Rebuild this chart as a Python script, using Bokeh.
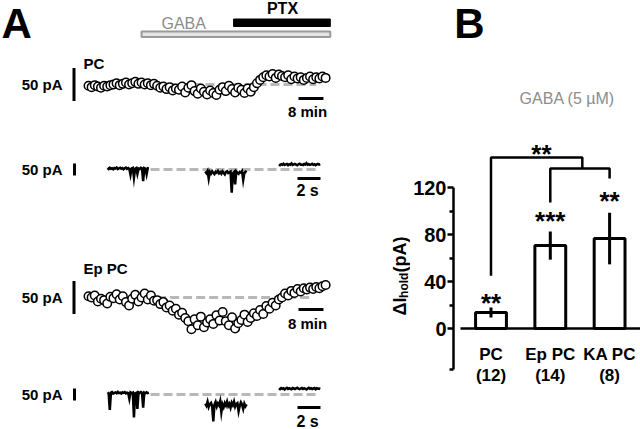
import math
import numpy as np
from bokeh.plotting import figure
from bokeh.models import Range1d, LinearAxis, FixedTicker
from bokeh.layouts import row, column
from bokeh.embed import file_html
from bokeh.resources import INLINE
from bokeh.core.properties import value

# ------------------------------------------------------------------ data
# Panel A: holding-current time courses (pA relative to baseline), 1 point / min
tc_time_min = list(range(77))
pc_tc_pA = [-2, -4, -1, -3, -5, -2, -3, -1,
            0, 2, -1, 1, 3, 0, 2, 4, 1, 3, 0, 2, -1, 1,
            -2, -5, -3, -7, -4, -9, -6, -8,
            -3, -12, -5, -1, -10, -14, -6,
            -11, -15, -9, -13, -16, -8,
            -4, -10, -2, -7, -12, -5,
            -8, -13, -6, -11, -4,
            2, 7, 11, 14,
            12, 16, 10, 15, 13, 11, 14,
            8, 12, 9, 11, 7, 10, 12, 8, 11, 9, 12, 10]
ep_tc_pA = [2, 0, 3, -6, -2, -4, -9, 1, -1,
            5, -3, 2, -7, -12, -2, 4, -6, 0, 6, -3, 3, -5,
            -4, -10, -7, -15, -12, -20, -17, -26, -23, -31, -36,
            -48, -33, -42, -29, -45, -38, -33, -40, -27, -35, -22, -36, -42, -30, -47, -39,
            -34, -26, -37, -31, -24, -28,
            -19, -25, -13, -17, -8, -12, -3,
            0, 6, 3, 10, 7, 13, 9, 14, 12, 15, 13, 16, 14, 17, 19]
pc_tc_baseline_min = [0, 73]
ep_tc_baseline_min = [22, 72]
gaba_on_min = 17
ptx_on_min = 46.5
drug_off_min = 77.5
tc_scale_pA = 50
tc_scale_min = 8

# Panel A: example current traces (pA), sampled every 0.1 s
trace_dt_s = 0.1
trace_seg_start_s = [0.0, 8.5, 14.9]
pc_trace_pA = [
    [6, 2, 7, 3, 5, 1, 6, 4, 8, 2, 5, 7, 3, 6, 1, 5, 8, 3, 6, 2, -22, 5, 7, -34, 3, 6, -18, 4, 2, 7, 5, -48, 6, 3, -20, 5, 4],
    [-8, -15, -6, -38, -10, -17, -7, -14, -19, -9, -13, -6, -16, -11, -18, -8, -14, -20, -10, -7, -15, -12, -9, -97, -16, -11, -62, -8, -14, -18, -10, -13, -7, -44, -15, -9, -12],
    [21, 18, 22, 20, 24, 19, 21, 23, 18, 22, 20, 25, 19, 21, 23, 20, 18, 22, 24, 20, 21, 19, 23, 21, 26, 20, 22, 19, 21, 24, 20, 22, 18, 21, 23, 20, 22],
]
ep_trace_pA = [
    [9, 5, -64, 8, 10, 4, 7, 9, 5, 11, 6, 8, 4, 9, 7, 10, 5, 8, 6, -18, 9, 6, 8, -96, 5, 7, -60, 9, 6, 10, 7, -55, 8, 5, 9, 6, 8],
    [-38, -47, -30, -52, -40, -35, -49, -112, -42, -31, -50, -37, -45, -28, -74, -41, -53, -36, -46, -30, -48, -39, -55, -34, -44, -29, -51, -40, -36, -70, -47, -33, -42, -60, -38, -49, -41],
    [25, 22, 27, 24, 26, 21, 25, 28, 23, 26, 24, 22, 27, 25, 23, 26, 28, 24, 22, 25, 27, 23, 26, 24, 21, 25, 28, 24, 26, 23, 25, 27, 22, 26, 24, 25, 23],
]
trace_baseline_s = [3.74, 18.35]
tr_scale_pA = 50
tr_scale_s = 2

# Panel B: GABA (5 uM) tonic current
bar_cats = ["PC", "Ep PC", "KA PC"]
bar_n = ["(12)", "(14)", "(8)"]
bar_mean = [13.6, 70.6, 76.6]
bar_sem = [4.3, 12.0, 22.0]
bar_stars = ["**", "***", "**"]
star_y = [21.3, 91.9, 108.1]
y_major = [0, 40, 80, 120]
y_minor = [20, 60, 100, -35]
y_bounds = (-35, 120)
bracket_xs = [[0, 0, 1.54, 1.54], [1, 1, 2, 2]]
bracket_ys = [[45, 145.5, 145.5, 136.2], [107.2, 136.2, 136.2, 127.7]]
bracket_star = ("**", 0.85, 148.9)

# ------------------------------------------------------------------ layout
FONT = "Liberation Sans"
TOTAL_W = 640
TOTAL_H = 429
SPLIT_X = 410
TOP_H = 130
GRAY = "#8c8c8c"
DASH_GRAY = "#b8b8b8"


def clean(p):
    p.outline_line_color = None
    p.grid.visible = False
    return p


def txt(p, x, y, t, size, bold=True, color="black", align="left", **kw):
    p.text(x=[x], y=[y], text=[t], text_font=value(FONT), text_font_size=size,
           text_font_style="bold" if bold else "normal", text_color=color,
           text_align=align, text_baseline="alphabetic", **kw)


# ---------------- panel A (pixel-like reference frame + data ranges)
W_A = SPLIT_X
pa = clean(figure(width=W_A, height=TOTAL_H, x_range=Range1d(0, W_A), y_range=Range1d(TOTAL_H, 0),
                  x_axis_location=None, y_axis_location=None, toolbar_location=None,
                  output_backend="svg", min_border=0))


def xr(origin_px, px_per_unit):
    return Range1d((0 - origin_px) / px_per_unit, (W_A - origin_px) / px_per_unit)


def yr(base_px, px_per_unit):
    return Range1d(-(TOTAL_H - base_px) / px_per_unit, base_px / px_per_unit)


PX_MIN = 3.12
PX_SEC = 11.5
PX_PA_TC = 0.66
PX_PA_TR = 0.24
pa.extra_x_ranges = {"min": xr(88, PX_MIN), "sec": xr(107, PX_SEC)}
pa.extra_y_ranges = {"pc_tc": yr(84, PX_PA_TC), "ep_tc": yr(297, PX_PA_TC),
                     "pc_tr": yr(169, PX_PA_TR), "ep_tr": yr(394, PX_PA_TR)}

# drug application bars
pa.quad(left=[gaba_on_min], right=[drug_off_min], top=[31], bottom=[36.5],
        fill_color="#e4e4e4", line_color="#9a9a9a", line_width=2, x_range_name="min")
pa.quad(left=[ptx_on_min], right=[drug_off_min], top=[18.5], bottom=[26],
        fill_color="black", line_color="black", line_width=1, x_range_name="min")
txt(pa, 1, 23, "A", "42px")
txt(pa, 282, 8, "PTX", "16px", align="center")
txt(pa, 161, 22.5, "GABA", "16px", bold=False, color=GRAY)

# time courses
for yname, vals, base_t, lab, base_px, lab_y, bar_y, bar_txt_y in [
        ("pc_tc", pc_tc_pA, pc_tc_baseline_min, "PC", 84, 63, 98, 111),
        ("ep_tc", ep_tc_pA, ep_tc_baseline_min, "Ep PC", 297, 268, 309, 323)]:
    pa.line(x=base_t, y=[0, 0], line_color=DASH_GRAY, line_width=3, line_dash="9 4",
            x_range_name="min", y_range_name=yname)
    pa.scatter(x=tc_time_min, y=vals, size=8.5, fill_color="white", line_color="black",
               line_width=1.5, x_range_name="min", y_range_name=yname)
    t_bar = (73.5 - 88) / PX_MIN
    pa.segment(x0=[t_bar], x1=[t_bar], y0=[-tc_scale_pA / 2], y1=[tc_scale_pA / 2],
               line_width=3, line_color="black", x_range_name="min", y_range_name=yname)
    t0 = (298 - 88) / PX_MIN
    pa.segment(x0=[t0], x1=[t0 + tc_scale_min], y0=[bar_y], y1=[bar_y],
               line_width=3, line_color="black", x_range_name="min")
    txt(pa, 307, bar_txt_y, "%d min" % tc_scale_min, "15px", align="center")
    txt(pa, 62, base_px, "%d pA" % tc_scale_pA, "15px", align="right")
    txt(pa, 83, lab_y, lab, "15px")

# traces
for yname, segs, base_px, bar_y, bar_txt_y in [("pc_tr", pc_trace_pA, 169, 178, 190),
                                              ("ep_tr", ep_trace_pA, 394, 407, 421)]:
    pa.line(x=trace_baseline_s, y=[0, 0], line_color=DASH_GRAY, line_width=3, line_dash="9 4",
            x_range_name="sec", y_range_name=yname)
    for s0, seg in zip(trace_seg_start_s, segs):
        xs = s0 + trace_dt_s * np.arange(len(seg))
        pa.line(x=xs, y=seg, line_color="black", line_width=2.5, line_join="miter",
                x_range_name="sec", y_range_name=yname)
    s_bar = (74 - 107) / PX_SEC
    pa.segment(x0=[s_bar], x1=[s_bar], y0=[-tr_scale_pA / 2], y1=[tr_scale_pA / 2],
               line_width=3, line_color="black", x_range_name="sec", y_range_name=yname)
    s0b = (297 - 107) / PX_SEC
    pa.segment(x0=[s0b], x1=[s0b + tr_scale_s], y0=[bar_y], y1=[bar_y],
               line_width=3, line_color="black", x_range_name="sec")
    txt(pa, 307, bar_txt_y, "%d s" % tr_scale_s, "16px", align="center")
    txt(pa, 62, base_px, "%d pA" % tr_scale_pA, "15px", align="right")

# y-axis title of panel B (sits in the space left of panel B's tick labels)
for t, size, x, y in [("\u0394I", "18px", 399, 315), ("hold", "12px", 403, 297.4),
                      (" (pA)", "18px", 399, 272.1)]:
    txt(pa, x, y, t, size, angle=math.pi / 2)

# ---------------- panel B, header strip
W_B = TOTAL_W - SPLIT_X
pbt = clean(figure(width=W_B, height=TOP_H, x_range=Range1d(SPLIT_X, TOTAL_W), y_range=Range1d(TOP_H, 0),
                   x_axis_location=None, y_axis_location=None, toolbar_location=None,
                   output_backend="svg", min_border=0))
txt(pbt, SPLIT_X + 1, 23, "B", "42px")
txt(pbt, 550, 97.5, "GABA (5 \u00b5M)", "16px", bold=False, color=GRAY, align="center")

# ---------------- panel B, bar chart
B_LEFT = 453
B_X0 = 490.5
B_DX = 59.3
B_Y0 = 328
B_PPU = 1.175


def bx(px):
    return (px - B_X0) / B_DX


def by(px):
    return (B_Y0 - px) / B_PPU


pb = clean(figure(width=W_B, height=TOTAL_H - TOP_H, x_range=Range1d(bx(B_LEFT), bx(TOTAL_W)),
                  y_range=Range1d(by(TOTAL_H), by(TOP_H)),
                  x_axis_location=None, y_axis_location=None, toolbar_location=None,
                  output_backend="svg", min_border_left=B_LEFT - SPLIT_X, min_border_right=0,
                  min_border_top=0, min_border_bottom=0))

ax = LinearAxis(ticker=FixedTicker(ticks=y_major, minor_ticks=y_minor), bounds=y_bounds)
ax.axis_line_width = 2.5
ax.major_tick_line_width = 2.5
ax.minor_tick_line_width = 2.5
ax.major_tick_out = 6
ax.major_tick_in = 0
ax.minor_tick_out = 4
ax.minor_tick_in = 0
ax.major_label_standoff = 1
ax.major_label_text_font = FONT
ax.major_label_text_font_size = "20px"
ax.major_label_text_font_style = "bold"
ax.major_label_text_color = "black"
pb.add_layout(ax, "left")

xs = list(range(len(bar_cats)))
pb.vbar(x=xs, width=0.52, bottom=0, top=bar_mean, fill_color="white",
        line_color="black", line_width=3)
pb.segment(x0=xs, x1=xs, y0=[m - s for m, s in zip(bar_mean, bar_sem)],
           y1=[m + s for m, s in zip(bar_mean, bar_sem)], line_color="black", line_width=3)
pb.segment(x0=[bx(460)], x1=[bx(642)], y0=[0], y1=[0], line_color="black", line_width=2.7)
pb.multi_line(xs=bracket_xs, ys=bracket_ys, line_color="black", line_width=2.5)

pb.text(x=xs, y=star_y, text=bar_stars, text_font=value(FONT), text_font_size="26px",
        text_font_style="bold", text_align="center", text_baseline="alphabetic")
txt(pb, bracket_star[1], bracket_star[2], bracket_star[0], "26px", align="center")
pb.text(x=xs, y=[by(353.5)] * 3, text=bar_cats, text_font=value(FONT), text_font_size="17px",
        text_font_style="bold", text_align="center", text_baseline="alphabetic")
pb.text(x=xs, y=[by(374.5)] * 3, text=bar_n, text_font=value(FONT), text_font_size="17px",
        text_font_style="bold", text_align="center", text_baseline="alphabetic")

layout = row(pa, column(pbt, pb))
open("out.html", "w").write(file_html(layout, INLINE))
